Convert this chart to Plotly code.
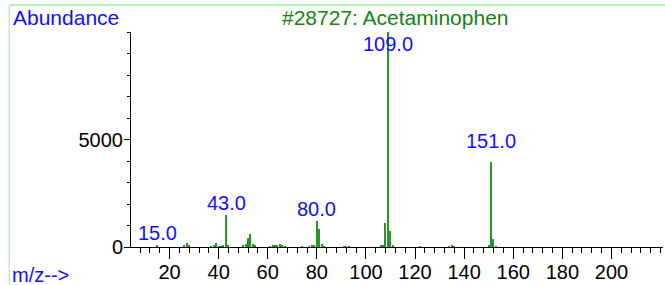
import plotly.graph_objects as go

# ---- data ----
mz = [15, 26, 27, 28, 37, 38, 39, 40, 41, 42, 43, 44, 50, 51, 52, 53, 54, 55,
      61, 62, 63, 64, 65, 66, 67, 74, 77, 78, 79, 80, 81, 82, 83, 91, 92, 93,
      106, 107, 108, 109, 110, 111, 122, 134, 135, 136, 150, 151, 152, 153]
abundance = [60, 50, 170, 100, 30, 60, 170, 40, 40, 90, 1510, 60, 80, 150, 420, 600, 150, 70,
             30, 50, 80, 50, 130, 50, 30, 30, 40, 60, 90, 1215, 860, 140, 30, 30, 30, 30,
             60, 100, 1120, 9999, 760, 60, 30, 40, 50, 30, 80, 3950, 370, 40]
label_mz = [15, 43, 80, 109, 151]
label_shift = [13, 12, 12, -12, 21]
x_major = [20, 40, 60, 80, 100, 120, 140, 160, 180, 200]
y_major = [0, 5000]
title = "#28727: Acetaminophen"

W, H = 665, 285
L, R, T, B = 131, 2, 32, 38
pw, ph = W - L - R, H - T - B

def px_x(p):
    return (p - L) / pw

def px_y(p):
    return 1 + (T - p) / ph

FONT = "Liberation Sans, Arial, sans-serif"
GREEN = "rgb(40,150,40)"
BLUE = "#1010ff"

fig = go.Figure()
fig.add_trace(go.Bar(x=mz, y=abundance, width=0.5,
                     marker=dict(color=GREEN, line=dict(width=0)),
                     hoverinfo="x+y"))

lookup = dict(zip(mz, abundance))
for m, s in zip(label_mz, label_shift):
    fig.add_annotation(x=m, y=lookup[m], text=f"{m:.1f}", showarrow=False,
                       yanchor="middle", xanchor="center", yshift=s,
                       font=dict(family=FONT, size=20, color=BLUE))

fig.add_annotation(xref="paper", yref="paper", x=px_x(10.5), y=px_y(18),
                   text="Abundance", showarrow=False, xanchor="left", yanchor="middle",
                   font=dict(family=FONT, size=21, color=BLUE))
fig.add_annotation(xref="paper", yref="paper", x=px_x(10), y=px_y(275),
                   text="m/z-->", showarrow=False, xanchor="left", yanchor="middle",
                   font=dict(family=FONT, size=20, color=BLUE))
fig.add_annotation(xref="paper", yref="paper", x=px_x(395.5), y=px_y(18),
                   text=title, showarrow=False, xanchor="center", yanchor="middle",
                   font=dict(family=FONT, size=21, color="rgb(20,130,20)"))

# light green frame lines
fig.add_shape(type="line", xref="paper", yref="paper",
              x0=px_x(9.3), x1=px_x(670), y0=px_y(5), y1=px_y(5),
              line=dict(color="#b8f2b8", width=2))
fig.add_shape(type="line", xref="paper", yref="paper",
              x0=px_x(9.3), x1=px_x(9.3), y0=px_y(5), y1=px_y(290),
              line=dict(color="#b8f2b8", width=1.5))

fig.update_layout(
    width=W, height=H, margin=dict(l=L, r=R, t=T, b=B, autoexpand=False),
    paper_bgcolor="white", plot_bgcolor="white", showlegend=False,
    bargap=0,
    font=dict(family=FONT, size=20, color="black"),
)
fig.update_xaxes(range=[4.3, 221], tickmode="array", tickvals=x_major,
                 ticks="outside", ticklen=11, tickwidth=1, tickcolor="black",
                 showline=True, linecolor="black", linewidth=1,
                 showgrid=False, zeroline=False, automargin=False,
                 ticklabelstandoff=-4,
                 tickfont=dict(family=FONT, size=20, color="black"),
                 minor=dict(dtick=4, tick0=0, ticks="outside", ticklen=5,
                            tickwidth=1, tickcolor="black", showgrid=False))
fig.update_yaxes(range=[0, 10000], tickmode="array", tickvals=y_major,
                 ticks="outside", ticklen=6, tickwidth=1, tickcolor="black",
                 showline=True, linecolor="black", linewidth=1,
                 showgrid=False, zeroline=False, ticklabelstandoff=-3, automargin=False,
                 tickfont=dict(family=FONT, size=20, color="black"),
                 minor=dict(dtick=1000, tick0=0, ticks="outside", ticklen=3,
                            tickwidth=1, tickcolor="black", showgrid=False))

fig.write_html("out.html", config={"displayModeBar": False},
               post_script="document.body.style.margin='0px';")
